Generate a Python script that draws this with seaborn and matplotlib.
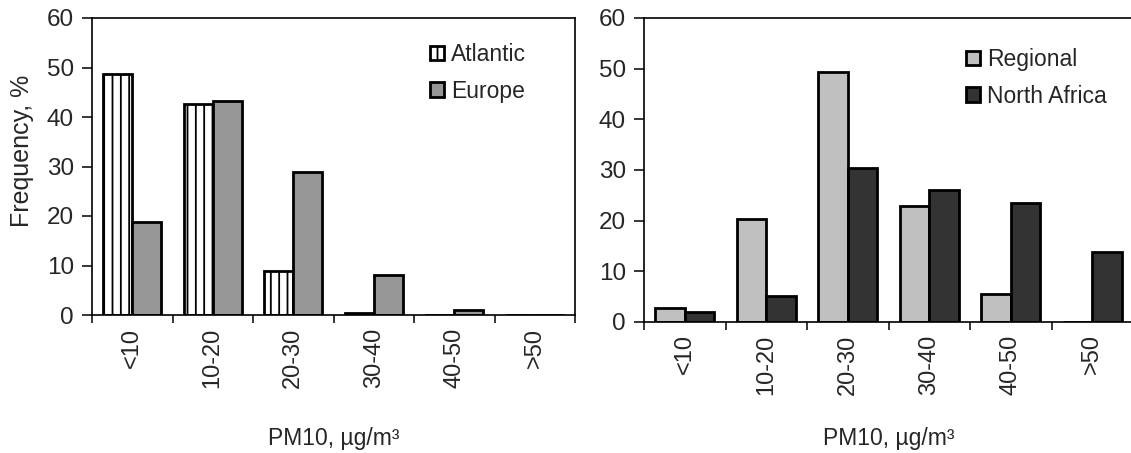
import matplotlib
matplotlib.use("Agg")
import matplotlib.pyplot as plt
import matplotlib.patches as mpatches
import seaborn as sns
import pandas as pd

bins = ["<10", "10-20", "20-30", "30-40", "40-50", ">50"]
atlantic = [48.7, 42.7, 8.8, 0.4, 0.0, 0.0]
europe = [18.8, 43.3, 28.9, 8.0, 1.0, 0.0]
regional = [2.7, 20.4, 49.3, 22.8, 5.6, 0.0]
north_africa = [2.0, 5.1, 30.3, 26.0, 23.4, 13.8]

sns.set_theme(style="white")
plt.rcParams['font.family'] = ['Liberation Sans', 'DejaVu Sans']
plt.rcParams['hatch.linewidth'] = 1.3
FS_TICK = 17.5
FS_XT = 17
FS_LEG = 16.5
FS_XL = 16.5
FS_YL = 18

fig = plt.figure(figsize=(11.31, 4.53), dpi=100)
ax1 = fig.add_axes([92/1131, 1-315/453, 483/1131, 297/453])
ax2 = fig.add_axes([644/1131, 1-322/453, 489/1131, 304/453])


def draw(ax, s1, s2, n1, n2, c1, c2, hatch1, leg_anchor, xl_y):
    df = pd.DataFrame({
        "bin": bins * 2,
        "freq": s1 + s2,
        "src": [n1] * len(bins) + [n2] * len(bins),
    })
    sns.barplot(data=df, x="bin", y="freq", hue="src", order=bins,
                hue_order=[n1, n2], palette=[c1, c2], edgecolor="black",
                linewidth=2.0, width=0.72, gap=0, saturation=1, ax=ax,
                legend=False)
    if hatch1:
        for p in ax.containers[0]:
            p.set_hatch(hatch1)
    ax.set_ylim(0, 60)
    ax.set_xlim(-0.5, 5.5)
    ax.set_yticks(range(0, 61, 10))
    ax.set_xticks(range(len(bins)))
    ax.set_xticklabels(bins, rotation=90, fontsize=FS_XT)
    ax.set_xticks([i - 0.5 for i in range(len(bins) + 1)], minor=True)
    ax.tick_params(axis="x", which="major", length=0, pad=9)
    ax.tick_params(axis="x", which="minor", length=6, width=1.1,
                   color="black", direction="out", bottom=True)
    ax.tick_params(axis="y", length=7, width=1.1, color="black",
                   direction="out", left=True, labelsize=FS_TICK, pad=6)
    for sp in ax.spines.values():
        sp.set_linewidth(1.2)
        sp.set_color("black")
        sp.set_visible(True)
    ax.set_xlabel("PM10, µg/m³", fontsize=FS_XL)
    ax.xaxis.set_label_coords(0.5, xl_y)
    ax.xaxis.label.set_va("center")
    handles = [
        mpatches.Patch(facecolor=c1, edgecolor="black", linewidth=2.0,
                       hatch=hatch1 if hatch1 else None, label=n1),
        mpatches.Patch(facecolor=c2, edgecolor="black", linewidth=2.0,
                       label=n2),
    ]
    ax.legend(handles=handles, loc="center left", bbox_to_anchor=leg_anchor,
              frameon=False, fontsize=FS_LEG, handlelength=0.62,
              handleheight=0.62, handletextpad=0.3, labelspacing=0.6,
              borderpad=0, borderaxespad=0)


draw(ax1, atlantic, europe, "Atlantic", "Europe", "white", "#969696", "||",
     (0.70, 0.815), (315 - 438) / 297)
draw(ax2, regional, north_africa, "Regional", "North Africa", "#c0c0c0",
     "#333333", None, (0.658, 0.803), (322 - 438) / 304)

ax1.set_ylabel("Frequency, %", fontsize=FS_YL)
ax1.yaxis.set_label_coords((22 - 92) / 483, (315 - 151) / 297)
ax1.yaxis.label.set_va("center")
ax2.set_ylabel("")

fig.savefig("out.png", dpi=100)
